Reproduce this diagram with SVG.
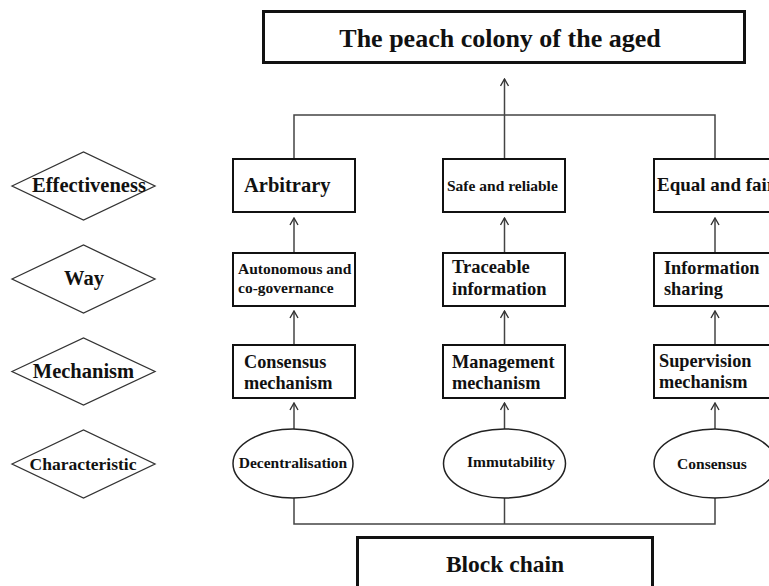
<svg xmlns="http://www.w3.org/2000/svg" width="769" height="586" viewBox="0 0 769 586">
<defs>
<marker id="arr" viewBox="0 0 10 10" refX="9" refY="5" markerWidth="10" markerHeight="10" markerUnits="userSpaceOnUse" orient="auto">
<path d="M2,1 L9,5 L2,9" fill="none" stroke="#333" stroke-width="1.4"/>
</marker>
</defs>
<style>
text{font-family:"Liberation Serif","Times New Roman",serif;font-weight:bold;fill:#111}
.box{fill:#fff;stroke:#111;stroke-width:2}
.big{fill:#fff;stroke:#111;stroke-width:3}
.dia{fill:#fff;stroke:#333;stroke-width:1.3}
.ell{fill:#fff;stroke:#222;stroke-width:1.5}
.con{fill:none;stroke:#444;stroke-width:1.5}
.arr{fill:none;stroke:#444;stroke-width:1.5;marker-end:url(#arr)}
</style>
<rect width="769" height="586" fill="#fff"/>

<g id="connectors">
<polyline class="con" points="294,159 294,115 715,115 715,159"/>
<line class="con" x1="504.5" y1="159" x2="504.5" y2="115"/>
<line class="arr" x1="504.5" y1="115" x2="504.5" y2="79"/>
<line class="arr" x1="294" y1="253" x2="294" y2="218"/>
<line class="arr" x1="504.5" y1="253" x2="504.5" y2="218"/>
<line class="arr" x1="715" y1="253" x2="715" y2="218"/>
<line class="arr" x1="294" y1="345" x2="294" y2="311"/>
<line class="arr" x1="504.5" y1="345" x2="504.5" y2="311"/>
<line class="arr" x1="715" y1="345" x2="715" y2="311"/>
<line class="arr" x1="294" y1="429" x2="294" y2="403"/>
<line class="arr" x1="504.5" y1="429" x2="504.5" y2="403"/>
<line class="arr" x1="715" y1="429" x2="715" y2="403"/>
<polyline class="con" points="294,498 294,524 715,524 715,498"/>
<line class="con" x1="504.5" y1="498" x2="504.5" y2="524"/>
</g>

<g id="title"><rect class="big" x="263.5" y="11.5" width="481" height="51"/>
<text x="500" y="47" font-size="26" text-anchor="middle">The peach colony of the aged</text></g>

<g id="blockchain"><rect class="big" x="357.5" y="537.5" width="295" height="60"/>
<text x="505" y="572" font-size="23.5" text-anchor="middle">Block chain</text></g>

<g id="d-effectiveness"><polygon class="dia" points="12,186 83.5,152 155,186 83.5,220"/>
<text x="89" y="192" font-size="20.5" text-anchor="middle">Effectiveness</text></g>
<g id="d-way"><polygon class="dia" points="12,279 83.5,245 155,279 83.5,313"/>
<text x="84" y="285" font-size="20.5" text-anchor="middle">Way</text></g>
<g id="d-mechanism"><polygon class="dia" points="12,371.5 83.5,338 155,371.5 83.5,405"/>
<text x="83.5" y="378" font-size="20.5" text-anchor="middle">Mechanism</text></g>
<g id="d-characteristic"><polygon class="dia" points="12,464 83.5,430 155,464 83.5,498"/>
<text x="83" y="470" font-size="17.5" text-anchor="middle">Characteristic</text></g>

<g id="e-arbitrary"><rect class="box" x="233" y="159" width="122" height="53"/>
<text x="244" y="192" font-size="20.5">Arbitrary</text></g>
<g id="e-safe"><rect class="box" x="443" y="159" width="122" height="53"/>
<text x="447" y="191" font-size="15.5">Safe and reliable</text></g>
<g id="e-equal"><rect class="box" x="654" y="159" width="122" height="53"/>
<text x="657" y="191" font-size="19">Equal and fair</text></g>

<g id="w-autonomous"><rect class="box" x="233" y="253" width="122" height="53"/>
<text x="238" y="274" font-size="15.5">Autonomous and</text>
<text x="238" y="293" font-size="15.5">co-governance</text></g>
<g id="w-traceable"><rect class="box" x="443" y="253" width="122" height="53"/>
<text x="452" y="273" font-size="18.5">Traceable</text>
<text x="452" y="295" font-size="18.5">information</text></g>
<g id="w-information"><rect class="box" x="654" y="253" width="122" height="53"/>
<text x="664" y="274" font-size="18.3">Information</text>
<text x="664" y="295" font-size="18.3">sharing</text></g>

<g id="m-consensus"><rect class="box" x="233" y="345" width="122" height="53"/>
<text x="244" y="368" font-size="18.3">Consensus</text>
<text x="244" y="389" font-size="18.3">mechanism</text></g>
<g id="m-management"><rect class="box" x="443" y="345" width="122" height="53"/>
<text x="452" y="368" font-size="18.3">Management</text>
<text x="452" y="389" font-size="18.3">mechanism</text></g>
<g id="m-supervision"><rect class="box" x="654" y="345" width="122" height="53"/>
<text x="659" y="367" font-size="18.3">Supervision</text>
<text x="659" y="388" font-size="18.3">mechanism</text></g>

<g id="c-decentralisation"><ellipse class="ell" cx="293" cy="463.5" rx="60" ry="34.5"/>
<text x="293" y="468" font-size="15.5" text-anchor="middle">Decentralisation</text></g>
<g id="c-immutability"><ellipse class="ell" cx="504.5" cy="463.5" rx="61" ry="34.5"/>
<text x="511" y="467" font-size="15.5" text-anchor="middle">Immutability</text></g>
<g id="c-consensus"><ellipse class="ell" cx="715" cy="463.5" rx="61" ry="34.5"/>
<text x="712" y="469" font-size="15.5" text-anchor="middle">Consensus</text></g>
</svg>
